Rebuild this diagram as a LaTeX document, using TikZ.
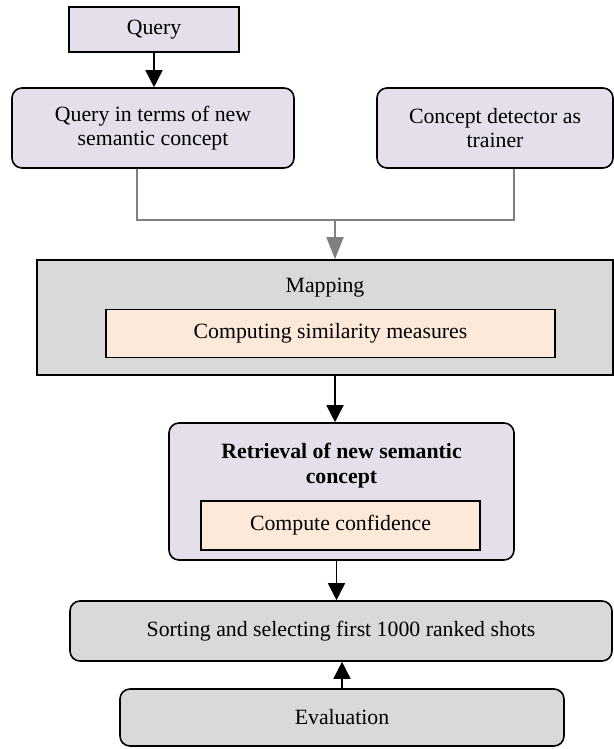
\documentclass[tikz,border=0pt]{standalone}
\usepackage{fontspec}
\setmainfont{Liberation Serif}
\usetikzlibrary{arrows.meta}

\definecolor{lavender}{HTML}{E5DFEC}
\definecolor{peach}{HTML}{FDE9D9}
\definecolor{boxgray}{HTML}{D9D9D9}
\definecolor{linegray}{HTML}{808080}

\begin{document}
\begin{tikzpicture}[x=0.5pt, y=-0.5pt,
    box/.style={draw, line width=0.8pt, inner sep=0pt, align=center, font=\fontsize{10.9}{12}\selectfont},
    violet/.style={box, fill=lavender},
    roundbox/.style={box, rounded corners=5pt},
    inner/.style={box, fill=peach},
    grey/.style={box, fill=boxgray},
    arr/.style={-{Triangle[width=8.5pt,length=8.5pt]}, line width=0.8pt},
    grayarr/.style={-{Triangle[width=8.5pt,length=11pt]}, line width=0.8pt, linegray}]
    \useasboundingbox (0,0) rectangle (614,749);

    % Eingabe
    \node[violet, minimum width=85pt, minimum height=22.5pt] (query) at (154,29.5) {Query};
    \node[violet, roundbox, minimum width=141pt, minimum height=40pt] (qterms) at (153,128)
        {Query in terms of new\\semantic concept};
    \node[violet, roundbox, minimum width=118pt, minimum height=40pt] (detector) at (495,128)
        {Concept detector as\\trainer};

    % Mapping
    \node[grey, minimum width=288pt, minimum height=57.5pt] (mapping) at (325,317.5) {};
    \node[font=\fontsize{10.9}{12}\selectfont] (maplabel) at (325,288) {Mapping};
    \node[inner, minimum width=224.5pt, minimum height=24pt] (similarity) at (330.5,333.5)
        {Computing similarity measures};

    % Retrieval
    \node[violet, roundbox, minimum width=172.5pt, minimum height=68.5pt] (retrieval) at (341.5,491.5) {};
    \node[align=center, font=\fontsize{10.9}{12.5}\selectfont\bfseries] (retlabel) at (341.5,466)
        {Retrieval of new semantic\\concept};
    \node[inner, minimum width=139.5pt, minimum height=24.5pt] (confidence) at (340.5,525.5)
        {Compute confidence};

    % Ausgabe
    \node[grey, roundbox, minimum width=271pt, minimum height=30pt] (sorting) at (341,631)
        {Sorting and selecting first 1000 ranked shots};
    \node[grey, roundbox, minimum width=222pt, minimum height=28.5pt] (evaluation) at (342,717.5)
        {Evaluation};

    % Verbindungen
    \coordinate (join) at (335,220);
    \draw[arr] (query.south) -- (query.south |- qterms.north);
    \draw[linegray, line width=0.8pt] ([xshift=-8pt]qterms.south) |- (join)
        -| ([xshift=9.5pt]detector.south);
    \draw[grayarr] (join) -- (join |- mapping.north);
    \draw[arr] (join |- mapping.south) -- (join |- retrieval.north);
    \draw[arr] ([xshift=-2.5pt]retrieval.south) -- ([xshift=-2.5pt]retrieval.south |- sorting.north);
    \draw[arr] (evaluation.north) -- (evaluation.north |- sorting.south);
\end{tikzpicture}
\end{document}
